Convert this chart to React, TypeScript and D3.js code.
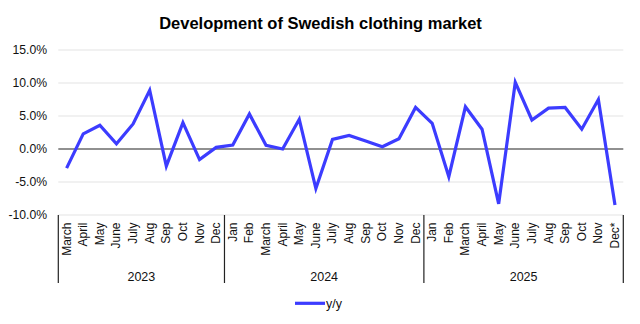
import React from "react";
import * as d3 from "d3";

const months = [
  "March","April","May","June","July","Aug","Sep","Oct","Nov","Dec",
  "Jan","Feb","March","April","May","June","July","Aug","Sep","Oct","Nov","Dec",
  "Jan","Feb","March","April","May","June","July","Aug","Sep","Oct","Nov","Dec*",
];
const years = ["2023", "2024", "2025"];
const yearCounts = [10, 12, 12];
const yoy = [
  -2.9, 2.3, 3.6, 0.8, 3.8, 8.9, -2.6, 4.0, -1.6, 0.25,
  0.6, 5.3, 0.55, 0.0, 4.5, -6.0, 1.45, 2.05, 1.2, 0.35, 1.55, 6.3,
  3.9, -4.2, 6.4, 3.0, -8.3, 10.1, 4.4, 6.2, 6.3, 3.0, 7.5, -8.5,
];
const yTicks = [-10, -5, 0, 5, 10, 15];

const W = 640, H = 324;
const left = 58.3, right = 623.3, top = 50, bottom = 215;
const font = "'Liberation Sans', Arial, sans-serif";
const blue = "#3c3cff";

export default function App() {
  const keys = months.map((_, i) => String(i));
  const x = d3.scaleBand<string>().domain(keys).range([left, right]).padding(0);
  const y = d3.scaleLinear().domain([-10, 15]).range([bottom, top]);
  const line = d3
    .line<number>()
    .x((_, i) => (x(String(i)) as number) + x.bandwidth() / 2)
    .y((d) => y(d));

  const bounds: number[] = [0];
  yearCounts.forEach((c) => bounds.push(bounds[bounds.length - 1] + c));
  const bx = (i: number) =>
    i >= months.length ? right : (x(String(i)) as number);

  return (
    <svg width={W} height={H} style={{ position: "absolute", left: 0, top: 0 }} fontFamily={font}>
      <rect width={W} height={H} fill="#fff" />
      <text x={320.5} y={29} textAnchor="middle" fontSize={16.5} fontWeight="bold" fill="#000">
        Development of Swedish clothing market
      </text>
      {yTicks.map((t) => (
        <g key={t}>
          <line
            x1={left}
            x2={right}
            y1={y(t)}
            y2={y(t)}
            stroke={t === 0 ? "#222" : "#e3e3e3"}
            strokeWidth={t === 0 ? 1.2 : 1}
          />
          <text x={47} y={y(t)} dy="0.35em" textAnchor="end" fontSize={12.2} fill="#111">
            {t.toFixed(1) + "%"}
          </text>
        </g>
      ))}
      {bounds.map((b, i) => (
        <line key={i} x1={bx(b)} x2={bx(b)} y1={bottom} y2={283} stroke="#222" strokeWidth={1.2} />
      ))}
      {months.map((m, i) => {
        const cx = (x(String(i)) as number) + x.bandwidth() / 2;
        return (
          <text
            key={i}
            transform={`translate(${cx + 4},${222.5}) rotate(-90)`}
            textAnchor="end"
            fontSize={12}
            fill="#111"
          >
            {m}
          </text>
        );
      })}
      {years.map((yr, i) => (
        <text
          key={yr}
          x={(bx(bounds[i]) + bx(bounds[i + 1])) / 2}
          y={281}
          textAnchor="middle"
          fontSize={12.5}
          fill="#111"
        >
          {yr}
        </text>
      ))}
      <path d={line(yoy) || ""} fill="none" stroke={blue} strokeWidth={3.2} strokeLinejoin="miter" />
      <line x1={295} x2={325} y1={303.3} y2={303.3} stroke={blue} strokeWidth={3.2} />
      <text x={326} y={303.3} dy="0.35em" fontSize={12.5} fill="#111">
        y/y
      </text>
    </svg>
  );
}
